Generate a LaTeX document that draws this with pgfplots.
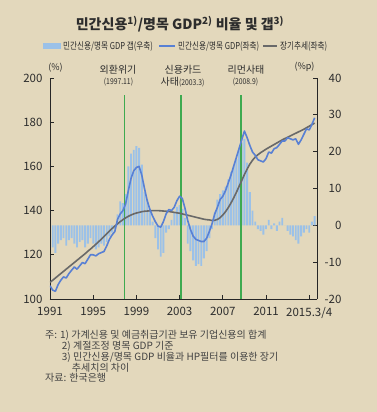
\documentclass[border=0pt]{standalone}
\usepackage{fontspec}
\setmainfont{Noto Sans CJK KR}
\usepackage{graphicx}
\usepackage{pgfplots}
\usepackage{pgfplotstable}
\pgfplotsset{compat=1.18}

\definecolor{bg}{RGB}{227,216,188}
\definecolor{barblue}{RGB}{155,193,232}
\definecolor{lineblue}{RGB}{88,128,212}
\definecolor{trendgray}{RGB}{105,105,105}
\definecolor{crisis}{RGB}{62,170,80}
\definecolor{txt}{RGB}{45,45,45}

\pgfplotstableread{
x R T G
1991.00 106.0 107.5 -3
1991.25 104.0 108.5 -6
1991.50 103.5 109.5 -7.5
1991.75 106.5 110.5 -5
1992.00 108.5 111.5 -4
1992.25 110.0 112.5 -3.5
1992.50 109.5 113.5 -5.5
1992.75 111.5 114.5 -4
1993.00 113.0 115.5 -3.5
1993.25 114.5 116.5 -5
1993.50 113.5 117.5 -6
1993.75 115.0 118.5 -4.5
1994.00 116.5 119.5 -4
1994.25 116.0 120.5 -6
1994.50 118.0 121.6 -5
1994.75 120.0 122.6 -3.5
1995.00 120.0 123.7 -5
1995.25 119.5 124.8 -6.5
1995.50 120.5 125.9 -6
1995.75 121.0 127.1 -5
1996.00 121.5 128.3 -5.5
1996.25 124.0 129.5 -4.5
1996.50 127.0 130.7 -3
1996.75 129.0 131.9 -2
1997.00 130.5 133.0 -1
1997.25 136.0 134.0 3
1997.50 138.5 135.0 6.5
1997.75 140.0 135.9 6
1998.00 143.0 136.7 8.5
1998.25 149.0 137.4 16
1998.50 154.5 138.0 19.5
1998.75 158.0 138.5 20.5
1999.00 159.5 138.9 21.5
1999.25 160.0 139.2 21
1999.50 156.0 139.5 16.5
1999.75 150.0 139.7 9
2000.00 144.5 139.8 7
2000.25 140.5 139.9 4.5
2000.50 137.5 140.0 1
2000.75 135.0 140.0 -3.5
2001.00 133.0 140.0 -6.5
2001.25 132.5 139.9 -8.5
2001.50 135.0 139.8 -7.5
2001.75 138.5 139.7 -2
2002.00 140.5 139.6 -1
2002.25 140.0 139.4 1.5
2002.50 141.5 139.2 3.5
2002.75 144.5 139.0 5
2003.00 146.5 138.8 5.5
2003.25 145.5 138.5 4.5
2003.50 141.0 138.2 2
2003.75 135.5 137.9 -5
2004.00 131.5 137.6 -7
2004.25 128.5 137.3 -9.5
2004.50 127.0 137.0 -11
2004.75 126.5 136.7 -10.5
2005.00 126.0 136.4 -11
2005.25 126.0 136.1 -9
2005.50 127.5 135.9 -7
2005.75 130.5 135.8 -3.5
2006.00 134.0 135.5 -1
2006.25 138.5 135.6 3.5
2006.50 141.5 136.0 7
2006.75 145.0 136.8 8.5
2007.00 146.5 138.0 9.5
2007.25 149.0 139.5 10.5
2007.50 152.5 141.3 12.5
2007.75 156.0 143.4 14.5
2008.00 160.0 145.7 16
2008.25 164.0 148.2 18
2008.50 168.0 150.9 21
2008.75 172.0 153.6 22.5
2009.00 176.0 156.3 23.5
2009.25 173.0 158.8 17
2009.50 169.5 161.0 9
2009.75 166.5 162.8 4
2010.00 165.0 164.2 1
2010.25 163.0 165.3 -1
2010.50 162.5 166.2 -1.5
2010.75 162.0 167.0 -2.5
2011.00 163.5 167.8 -1
2011.25 166.5 168.5 1.5
2011.50 166.0 169.2 -1
2011.75 168.0 169.9 0.5
2012.00 168.5 170.6 -1.5
2012.25 170.0 171.3 1
2012.50 171.5 172.0 2
2012.75 171.5 172.6 0
2013.00 173.0 173.2 -1.5
2013.25 172.5 173.8 -2.5
2013.50 172.0 174.4 -3
2013.75 172.5 175.0 -4
2014.00 170.0 175.6 -5
2014.25 172.0 176.2 -3
2014.50 174.5 176.8 -2
2014.75 177.0 177.5 -1
2015.00 176.5 178.2 -2
2015.25 179.0 178.9 1
2015.50 182.0 179.6 2.5
}\data

\pgfplotsset{
  common/.style={
    at={(50pt,113pt)}, anchor=south west, scale only axis,
    width=267pt, height=221pt,
    xmin=1991, xmax=2015.72,
    tick align=inside, major tick length=4pt,
    axis line style={-, line width=0.9pt, black!85},
    tick style={line width=0.8pt, black!85},
    font=\fontsize{11.5}{12}\selectfont,
    every tick label/.append style={text=txt},
    /pgf/number format/assume math mode=true,
  }
}

\begin{document}
\begin{tikzpicture}[x=1pt,y=1pt]
\fill[bg] (0,0) rectangle (377,412);

% right axis: gap bars
\begin{axis}[common,
  ymin=-20, ymax=40, ytick={-20,-10,...,40},
  axis y line*=right, axis x line=none,
  yticklabel style={anchor=east, xshift=28pt},
]
\addplot[ybar, bar width=1.9pt, fill=barblue, draw=none] table[x=x, y=G] {\data};
\end{axis}

% left axis: ratio and trend
\begin{axis}[common,
  ymin=100, ymax=200, ytick={100,120,...,200},
  axis x line*=bottom, axis y line*=left,
  xtick={1991,1995,1999,2003,2007,2011,2015},
  xticklabels={1991,1995,1999,2003,2007,2011,2015.3/4},
  yticklabel style={xshift=-4pt},
  xticklabel style={yshift=-5pt},
]
\addplot[draw=crisis, line width=1.4pt, no marks] coordinates {(1997.90,100) (1997.90,192.3)};
\addplot[draw=crisis, line width=1.4pt, no marks] coordinates {(2003.13,100) (2003.13,192.3)};
\addplot[draw=crisis, line width=1.4pt, no marks] coordinates {(2008.67,100) (2008.67,192.3)};
\addplot[trendgray, line width=1.6pt, line join=round, no marks] table[x=x, y=T] {\data};
\addplot[lineblue, line width=1.6pt, line join=round, no marks] table[x=x, y=R] {\data};
\end{axis}

% title
\node[text=txt, font=\bfseries\fontsize{14}{16}\selectfont] at (180,388)
  {민간신용\textsuperscript{1)}/명목 GDP\textsuperscript{2)} 비율 및 갭\textsuperscript{3)}};

% legend
\fill[barblue] (43,363) rectangle (61,369);
\node[anchor=west, text=txt, inner sep=0pt, font=\fontsize{9.5}{10}\selectfont] at (63,366)
  {\scalebox{0.8}[1]{민간신용/명목 GDP 갭(우축)}};
\draw[lineblue, line width=1.6pt] (159,366) -- (175,366);
\node[anchor=west, text=txt, inner sep=0pt, font=\fontsize{9.5}{10}\selectfont] at (178,366)
  {\scalebox{0.8}[1]{민간신용/명목 GDP(좌축)}};
\draw[trendgray, line width=1.6pt] (263,366) -- (277,366);
\node[anchor=west, text=txt, inner sep=0pt, font=\fontsize{9.5}{10}\selectfont] at (280,366)
  {\scalebox{0.8}[1]{장기추세(좌축)}};

% event annotations
\node[text=txt, font=\fontsize{10}{11}\selectfont] at (118,342) {외환위기};
\node[text=txt, font=\fontsize{8}{9}\selectfont] at (118.5,330) {\scalebox{0.85}[1]{(1997.11)}};
\node[text=txt, font=\fontsize{10}{11}\selectfont] at (183,342) {신용카드};
\node[text=txt, font=\fontsize{10}{11}\selectfont] at (182.5,330) {사태\fontsize{8}{9}\selectfont\scalebox{0.85}[1]{(2003.3)}};
\node[text=txt, font=\fontsize{10}{11}\selectfont] at (246,342) {리먼사태};
\node[text=txt, font=\fontsize{8}{9}\selectfont] at (245.5,330) {\scalebox{0.85}[1]{(2008.9)}};

% units
\node[text=txt, font=\fontsize{9}{10}\selectfont] at (55.5,344.5) {(\%)};
\node[text=txt, font=\fontsize{9}{10}\selectfont] at (304.5,345.5) {(\%p)};

% notes
\begin{scope}[every node/.style={anchor=west, text=txt!90, inner sep=0pt, font=\fontsize{10}{11}\selectfont}]
\node at (45,77) {주: 1) 가계신용 및 예금취급기관 보유 기업신용의 합계};
\node at (61.7,66) {2) 계절조정 명목 GDP 기준};
\node at (61.7,55) {3) 민간신용/명목 GDP 비율과 HP필터를 이용한 장기};
\node at (71.7,44) {추세치의 차이};
\node at (45,34) {자료: 한국은행};
\end{scope}
\end{tikzpicture}
\end{document}
